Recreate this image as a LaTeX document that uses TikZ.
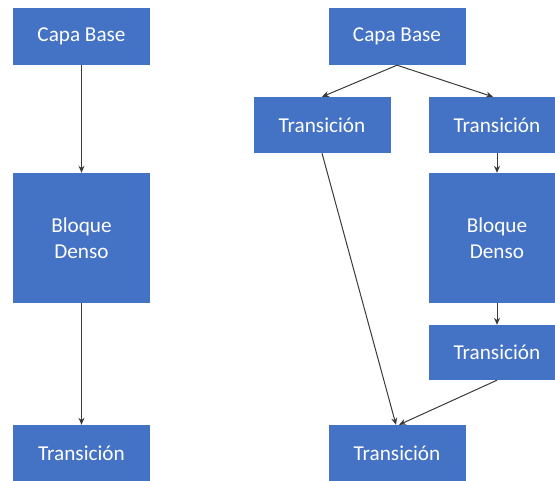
\documentclass[tikz,border=0pt]{standalone}
\usepackage{fontspec}
\setmainfont{Carlito}
\usetikzlibrary{arrows.meta}
\begin{document}
\begin{tikzpicture}[x=1pt,y=-1pt,
  block/.style={rectangle, fill=blockblue, draw=none, text=white, inner sep=0pt,
    minimum width=137pt, font=\fontsize{21.2}{26}\selectfont, align=center},
  link/.style={draw=linkgray, line width=1pt, -{Stealth[length=7pt,width=6pt]}}]
\definecolor{blockblue}{HTML}{4472C4}
\definecolor{linkgray}{HTML}{3A3A3A}
\useasboundingbox (0,0) rectangle (555,481);
\clip (0,0) rectangle (555,481);
% left chain
\node[block, minimum height=57pt] (cb1) at (81.5,36.5) {Capa Base};
\node[block, minimum height=130pt] (bd1) at (81.5,238) {Bloque\\Denso};
\node[block, minimum height=56pt] (tr1) at (81.5,453) {Transición};
\draw[link] (cb1) -- (bd1);
\draw[link] (bd1) -- (tr1);
% right graph
\node[block, minimum height=57pt] (cb2) at (397,36.5) {Capa Base};
\node[block, minimum height=56pt] (trL) at (322,125) {Transición};
\node[block, minimum height=56pt] (trR) at (497,125) {Transición};
\node[block, minimum height=130pt] (bdR) at (497,238) {Bloque\\Denso};
\node[block, minimum height=55pt] (trR2) at (497,352.5) {Transición};
\node[block, minimum height=56pt] (tr2) at (397,453) {Transición};
\draw[link] (cb2.south) -- (trL.north);
\draw[link] (cb2.south) -- ([xshift=-4pt]trR.north);
\draw[link] (trR) -- (bdR);
\draw[link] (bdR) -- (trR2);
\draw[link] (trL.south) -- ([xshift=-1pt]tr2.north);
\draw[link] (trR2.south) -- ([xshift=2pt]tr2.north);
\end{tikzpicture}
\end{document}
